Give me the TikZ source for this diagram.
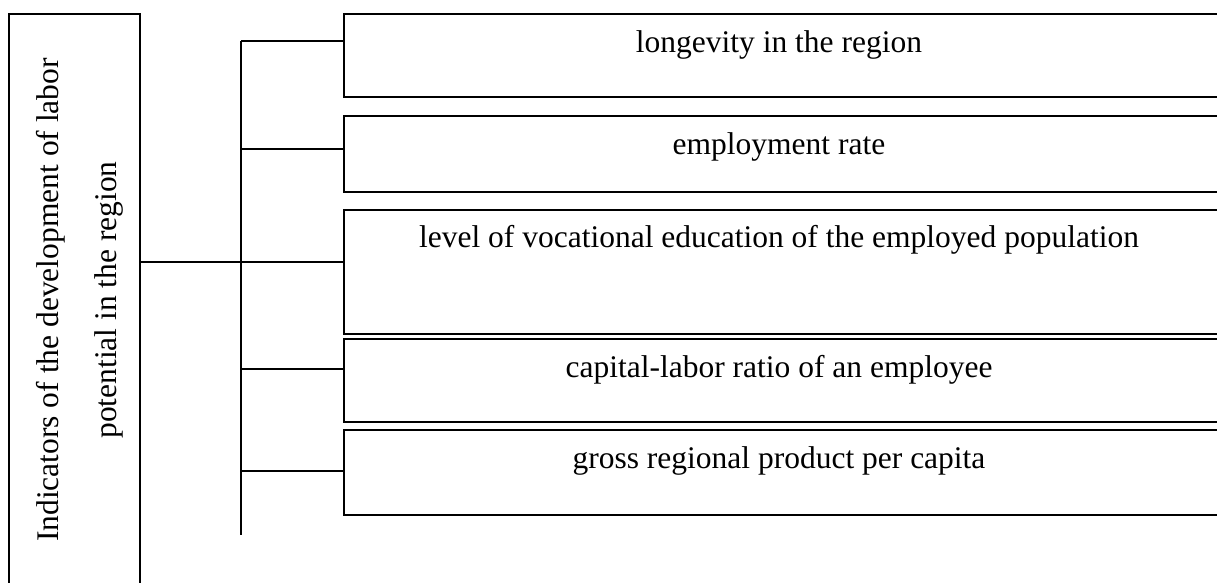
\documentclass[tikz,border=0pt]{standalone}
\usepackage{fontspec}
\setmainfont{Liberation Serif}
\begin{document}
\begin{tikzpicture}[x=1pt,y=-1pt, line width=1.5pt,
  box/.style={draw, rectangle, anchor=north west, minimum width=880pt, inner sep=0pt},
  lbl/.style={anchor=base, inner sep=0pt, font=\fontsize{31.5}{38}\selectfont}]
\useasboundingbox (0,0) rectangle (1217,582);
\clip (0,0) rectangle (1217,582);
\node[draw, rectangle, anchor=north west, minimum width=131pt, minimum height=620pt, inner sep=0pt] (L) at (8,13) {};
\node[rotate=90, align=center, inner sep=0pt, font=\fontsize{31.5}{58}\selectfont] (Lt) at (80,300) {Indicators of the development of labor\\potential in the region};
\node[box, minimum height=83pt] (b1) at (343,13) {};
\node[box, minimum height=76pt] (b2) at (343,115) {};
\node[box, minimum height=124pt] (b3) at (343,209) {};
\node[box, minimum height=83pt] (b4) at (343,338) {};
\node[box, minimum height=85pt] (b5) at (343,429) {};
\node[lbl] (t1) at (779,52) {longevity in the region};
\node[lbl] (t2) at (779,154) {employment rate};
\node[lbl] (t3) at (779,247.5) {level of vocational education of the employed population};
\node[lbl] (t4) at (779,377) {capital-labor ratio of an employee};
\node[lbl] (t5) at (779,468) {gross regional product per capita};
\coordinate (j1) at (241,41);
\coordinate (j2) at (241,149);
\coordinate (jm) at (241,262);
\coordinate (j4) at (241,369);
\coordinate (j5) at (241,471);
\coordinate (bot) at (241,535);
\draw (j1) -- (bot);
\draw (j1) -- (j1 -| b1.west);
\draw (j2) -- (j2 -| b2.west);
\draw (jm -| L.east) -- (jm -| b3.west);
\draw (j4) -- (j4 -| b4.west);
\draw (j5) -- (j5 -| b5.west);
\end{tikzpicture}
\end{document}
